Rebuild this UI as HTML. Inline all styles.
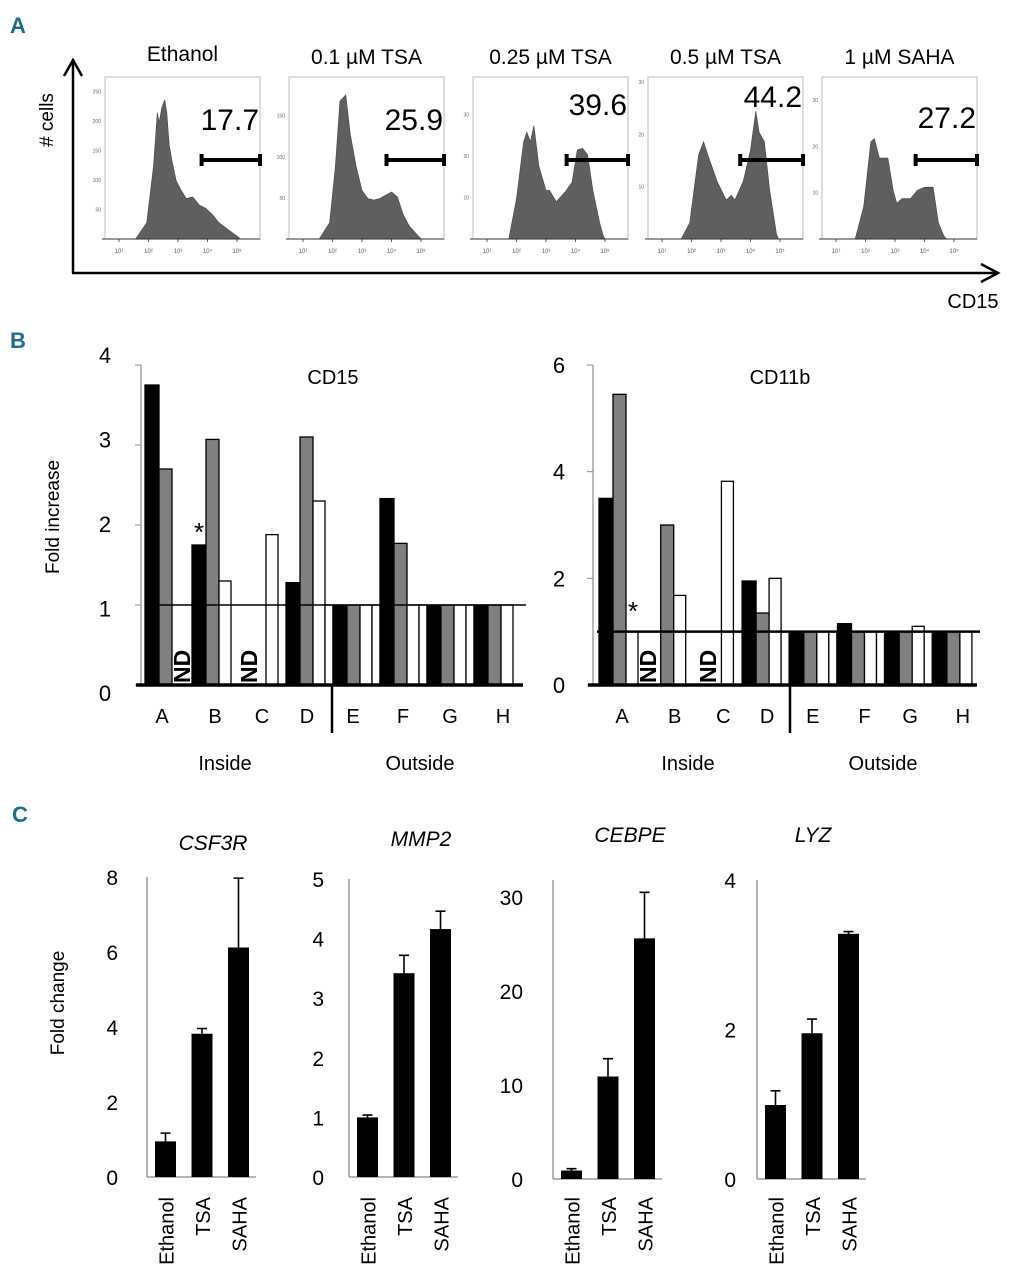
<!DOCTYPE html>
<html><head><meta charset="utf-8">
<style>
html,body{margin:0;padding:0;background:#fff;}
svg{display:block;font-family:"Liberation Sans Narrow","Liberation Sans",sans-serif;}
.pl{font-family:"Liberation Sans Narrow","Liberation Sans",sans-serif;font-weight:bold;fill:#1b6e8e;font-size:22px;}
</style></head>
<body>
<svg id="fig" width="1010" height="1280" viewBox="0 0 1010 1280" xmlns="http://www.w3.org/2000/svg">
<text class="pl" x="10" y="33">A</text>
<text class="pl" x="10" y="348">B</text>
<text class="pl" x="12" y="822">C</text>
<g id="pa">
<line x1="73" y1="273" x2="73" y2="62" stroke="#000" stroke-width="2.5"/>
<polyline points="64,76 73,60 82,76" fill="none" stroke="#000" stroke-width="2.5"/>
<line x1="72" y1="273" x2="996" y2="273" stroke="#000" stroke-width="2.5"/>
<polyline points="981,264 998,273 981,282" fill="none" stroke="#000" stroke-width="2.5"/>
<text x="0" y="0" transform="translate(53,120) rotate(-90)" text-anchor="middle" font-size="19"># cells</text>
<text x="973" y="308" text-anchor="middle" font-size="20">CD15</text>
</g>
<g id="pb">
<text x="0" y="0" transform="translate(59,517) rotate(-90)" text-anchor="middle" font-size="19">Fold increase</text>
</g>
<g id="pc">
<text x="0" y="0" transform="translate(64,1003) rotate(-90)" text-anchor="middle" font-size="19">Fold change</text>
</g>
</svg>
<script>
const NS="http://www.w3.org/2000/svg";
function mk(tag,attrs,parent){const e=document.createElementNS(NS,tag);for(const k in attrs)e.setAttribute(k,attrs[k]);parent.appendChild(e);return e;}

/* ---------- Panel A data ---------- */
const histTitles=["Ethanol","0.1 \u00B5M TSA","0.25 \u00B5M TSA","0.5 \u00B5M TSA","1 \u00B5M SAHA"];
const gateValues=["17.7","25.9","39.6","44.2","27.2"];
const gateStartLog=[3.8,3.83,3.7,3.65,3.7];
const hist0=[[1.56,0],[1.94,0.1],[2.17,0.45],[2.3,0.78],[2.36,0.72],[2.45,0.81],[2.55,0.86],[2.62,0.78],[2.7,0.58],[2.8,0.48],[2.94,0.36],[3.11,0.3],[3.28,0.25],[3.5,0.26],[3.72,0.21],[3.94,0.19],[4.17,0.15],[4.39,0.1],[4.61,0.07],[4.83,0.04],[5.06,0.01],[5.11,0]];
const hist1=[[1.55,0],[1.9,0.1],[2.1,0.45],[2.25,0.85],[2.45,0.89],[2.6,0.65],[2.8,0.45],[3.0,0.3],[3.2,0.25],[3.4,0.24],[3.6,0.25],[3.8,0.27],[4.0,0.29],[4.2,0.26],[4.4,0.15],[4.6,0.08],[4.9,0.02],[5.0,0]];
const hist2=[[1.74,0],[2.0,0.25],[2.24,0.6],[2.35,0.66],[2.47,0.6],[2.59,0.7],[2.76,0.45],[3.0,0.3],[3.12,0.3],[3.35,0.23],[3.65,0.29],[3.88,0.35],[4.06,0.55],[4.24,0.56],[4.41,0.52],[4.59,0.3],[4.82,0.1],[4.94,0.02],[5.0,0]];
const hist3=[[1.65,0],[1.94,0.1],[2.24,0.52],[2.41,0.6],[2.59,0.5],[2.88,0.35],[3.18,0.24],[3.35,0.27],[3.47,0.24],[3.76,0.36],[4.0,0.55],[4.18,0.79],[4.29,0.66],[4.47,0.6],[4.65,0.3],[4.88,0.03],[4.95,0]];
const hist4=[[1.65,0],[1.94,0.2],[2.18,0.6],[2.3,0.62],[2.47,0.5],[2.76,0.5],[2.94,0.3],[3.06,0.22],[3.24,0.25],[3.53,0.25],[3.76,0.3],[4.0,0.32],[4.29,0.32],[4.47,0.1],[4.65,0.02],[4.75,0]];
const hists=[hist0,hist1,hist2,hist3,hist4];
const histYTicks0=[50,100,150,200,250], histYTicks1=[50,100,150], histYTicks2=[10,20,30], histYTicks3=[10,20,30], histYTicks4=[10,20,30];
const histYMax=[275,197,39,31,35];

const pa=document.getElementById('pa');
const boxX=[105,289,473,648,822], boxW=155, boxTop=77, boxBot=239;
const titleY=[61,64,64,64,64], numY=[130,130,115,107,128];
const yTickSets=[histYTicks0,histYTicks1,histYTicks2,histYTicks3,histYTicks4];
function lx(b,l){return boxX[b]+14+(l-1)*29.5;}
function fy(f){return boxBot-f*(boxBot-boxTop);}
for(let b=0;b<5;b++){
  const t=mk('text',{x:boxX[b]+boxW/2,y:titleY[b],'text-anchor':'middle','font-size':21},pa);t.textContent=histTitles[b];
  
  
  const r=mk('rect',{x:boxX[b],y:boxTop,width:boxW,height:boxBot-boxTop,fill:'#fff',stroke:'#bbb','stroke-width':1},pa);
  
  
  let pts=hists[b].map(p=>lx(b,p[0]).toFixed(1)+','+fy(p[1]).toFixed(1)).join(' ');
  const poly=mk('polygon',{points:pts,fill:'#5f5f5f',stroke:'#444','stroke-width':0.6},pa);
  
  
  const ax=mk('line',{x1:boxX[b]-3,y1:boxBot,x2:boxX[b]+boxW,y2:boxBot,stroke:'#333','stroke-width':1},pa);
  
  
  for(let d=1;d<=5;d++){
    const tl=mk('text',{x:lx(b,d),y:boxBot+14,'text-anchor':'middle','font-size':6,fill:'#555'},pa);tl.textContent='10'+['','\u00B9','\u00B2','\u00B3','\u2074','\u2075'][d];
    
    
    const tk=mk('line',{x1:lx(b,d),y1:boxBot,x2:lx(b,d),y2:boxBot+3,stroke:'#333','stroke-width':0.8},pa);
    
    
  }
  yTickSets[b].forEach(v=>{
    const yy=fy(v/histYMax[b]);
    const tl=mk('text',{x:boxX[b]-4,y:yy+2,'text-anchor':'end','font-size':5,fill:'#666'},pa);tl.textContent=v;
    
    
  });
  const gx1=lx(b,gateStartLog[b]), gx2=boxX[b]+boxW, gy=160;
  const g=mk('path',{d:`M${gx1},${gy}H${gx2}M${gx1},${gy-6}V${gy+6}M${gx2},${gy-6}V${gy+6}`,stroke:'#000','stroke-width':4,fill:'none'},pa);
  
  
  const n=mk('text',{x:boxX[b]+boxW-1,y:numY[b],'text-anchor':'end','font-size':30},pa);n.textContent=gateValues[b];
  
  
}

/* ---------- Panel B data ---------- */
const groups=["A","B","C","D","E","F","G","H"];
const cd15Black=[3.75,1.75,null,1.28,1,2.33,1,1];
const cd15Gray=[2.7,3.07,null,3.1,1,1.77,1,1];
const cd15White=[null,1.3,1.88,2.3,1,1,1,1];
const cd15White2=[null,null,null,1,1,1,1,null];
const cd15Ticks=[0,1,2,3,4];
const cd11bBlack=[3.5,null,null,1.95,1,1.15,1,1];
const cd11bGray=[5.45,3.0,null,1.35,1,1,1,1];
const cd11bWhite=[1.0,1.68,3.82,2.0,1,1,1.1,1];
const cd11bWhite2=[null,null,null,1,1,1,1,null];
const cd11bTicks=[0,2,4,6];

const pb=document.getElementById('pb');
const slotOff=[0,14,27,39], slotW=[14,13,12,8], slotFill=['#000','#808080','#fff','#fff'];
function barChart(cfg){
  const y=v=>cfg.base-v*cfg.ppu;
  const ax=mk('line',{x1:cfg.axX,y1:cfg.base-cfg.max*cfg.ppu,x2:cfg.axX,y2:cfg.base,stroke:'#888','stroke-width':1.2},pb);
  
  
  cfg.ticks.forEach(v=>{
    const tk=mk('line',{x1:cfg.axX-6,y1:y(v),x2:cfg.axX,y2:y(v),stroke:'#888','stroke-width':1},pb);
    
    
    const ly=cfg.labBase-v*cfg.labPpu;
    const t=mk('text',{x:cfg.labX,y:ly+8,'text-anchor':'middle','font-size':22},pb);t.textContent=v;
    
    
  });
  const series=cfg.series;
  groups.forEach((gname,gi)=>{
    const gx=cfg.start+gi*cfg.step;
    series.forEach((arr,si)=>{
      const v=arr[gi]; if(v==null) return;
      const r=mk('rect',{x:gx+slotOff[si],y:y(v),width:slotW[si],height:v*cfg.ppu,fill:slotFill[si],stroke:'#000','stroke-width':1.3},pb);
      
      
    });
    const t=mk('text',{x:gx+cfg.labOff[gi],y:723,'text-anchor':'middle','font-size':20},pb);t.textContent=gname;
    
    
  });
  const base=mk('line',{x1:cfg.axX-5,y1:cfg.base,x2:cfg.endX,y2:cfg.base,stroke:'#000','stroke-width':3.5},pb);
  
  
  const ref=mk('line',{x1:cfg.axX+4,y1:y(1),x2:cfg.endX+3,y2:y(1),stroke:'#000','stroke-width':cfg.refW},pb);
  
  
  const dv=mk('line',{x1:cfg.divX,y1:cfg.base,x2:cfg.divX,y2:733,stroke:'#000','stroke-width':2.5},pb);
  
  
  const tt=mk('text',{x:cfg.titleX,y:384,'text-anchor':'middle','font-size':20},pb);tt.textContent=cfg.title;
  
  
  const ins=mk('text',{x:cfg.insideX,y:770,'text-anchor':'middle','font-size':20},pb);ins.textContent='Inside';
  
  
  const outs=mk('text',{x:cfg.outsideX,y:770,'text-anchor':'middle','font-size':20},pb);outs.textContent='Outside';
  
  
  cfg.nd.forEach(nx=>{
    const t=mk('text',{x:0,y:0,transform:`translate(${nx+8},${cfg.base-2}) rotate(-90)`,'text-anchor':'start','font-size':23,'font-weight':'bold'},pb);t.textContent='ND';
    
    
  });
  const st=mk('text',{x:cfg.star[0],y:cfg.star[1],'text-anchor':'middle','font-size':26},pb);st.textContent='*';
  
  
}
barChart({id:'cd15',title:'CD15',series:[cd15Black,cd15Gray,cd15White,cd15White2],ticks:cd15Ticks,max:4,ppu:80,base:685,axX:141,start:145,step:47,endX:523,
  labX:105,labBase:693,labPpu:84.5,labOff:[17,23,23,21,20,23,23,29],divX:332,titleX:333,insideX:225,outsideX:420,nd:[182,249],star:[199,541],refW:1.5});
barChart({id:'cd11b',title:'CD11b',series:[cd11bBlack,cd11bGray,cd11bWhite,cd11bWhite2],ticks:cd11bTicks,max:6,ppu:53.33,base:685,axX:593,start:599,step:47.7,endX:977,
  labX:559,labBase:685,labPpu:53.33,labOff:[23,28,29,25,23,27,25,30],divX:790,titleX:780,insideX:688,outsideX:883,nd:[648,708],star:[633,620],refW:2.5});

/* ---------- Panel C data ---------- */
const treatments=["Ethanol","TSA","SAHA"];
const csf3rMeans=[0.95,3.82,6.12], csf3rErr=[0.22,0.14,1.85], csf3rTicks=[0,2,4,6,8];
const mmp2Means=[1.0,3.42,4.16], mmp2Err=[0.04,0.3,0.3], mmp2Ticks=[0,1,2,3,4,5];
const cebpeMeans=[0.9,10.9,25.6], cebpeErr=[0.2,1.9,4.9], cebpeTicks=[0,10,20,30];
const lyzMeans=[0.99,1.95,3.28], lyzErr=[0.19,0.19,0.03], lyzTicks=[0,2,4];

const pc=document.getElementById('pc');
function geneChart(c){
  const y=v=>c.base-v*c.ppu;
  const ax=mk('line',{x1:c.x0,y1:c.top,x2:c.x0,y2:c.base,stroke:'#888','stroke-width':1.3},pc);
  
  
  const bx=mk('line',{x1:c.x0,y1:c.base,x2:c.x0+109,y2:c.base,stroke:'#888','stroke-width':1.3},pc);
  
  
  c.ticks.forEach(v=>{
    const t=mk('text',{x:c.x0-c.labGap,y:y(v)+8,'text-anchor':'end','font-size':21},pc);t.textContent=v;
    
    
  });
  c.means.forEach((m,i)=>{
    const x=c.x0+8+i*36.5, cx=x+10.5;
    const e=mk('path',{d:`M${cx},${y(m)}V${y(m+c.err[i])}M${cx-5},${y(m+c.err[i])}H${cx+5}`,stroke:'#000','stroke-width':1.6,fill:'none'},pc);
    
    
    const r=mk('rect',{x:x,y:y(m),width:21,height:m*c.ppu,fill:'#000'},pc);
    
    
    const t=mk('text',{x:0,y:0,transform:`translate(${cx+8},1197) rotate(-90)`,'text-anchor':'end','font-size':20},pc);t.textContent=treatments[i];
    
    
  });
  const tt=mk('text',{x:c.titleX,y:c.titleY,'text-anchor':'middle','font-size':21,'font-style':'italic'},pc);tt.textContent=c.title;
  
  
}
geneChart({id:'csf3r',title:'CSF3R',means:csf3rMeans,err:csf3rErr,ticks:csf3rTicks,x0:147,base:1177,ppu:37.5,top:877,labGap:29,titleX:213,titleY:850});
geneChart({id:'mmp2',title:'MMP2',means:mmp2Means,err:mmp2Err,ticks:mmp2Ticks,x0:349,base:1177,ppu:59.6,top:879,labGap:25,titleX:421,titleY:846});
geneChart({id:'cebpe',title:'CEBPE',means:cebpeMeans,err:cebpeErr,ticks:cebpeTicks,x0:553,base:1179,ppu:9.4,top:880,labGap:30,titleX:630,titleY:842});
geneChart({id:'lyz',title:'LYZ',means:lyzMeans,err:lyzErr,ticks:lyzTicks,x0:757,base:1179,ppu:74.75,top:880,labGap:21,titleX:813,titleY:842});
</script>
</body></html>
